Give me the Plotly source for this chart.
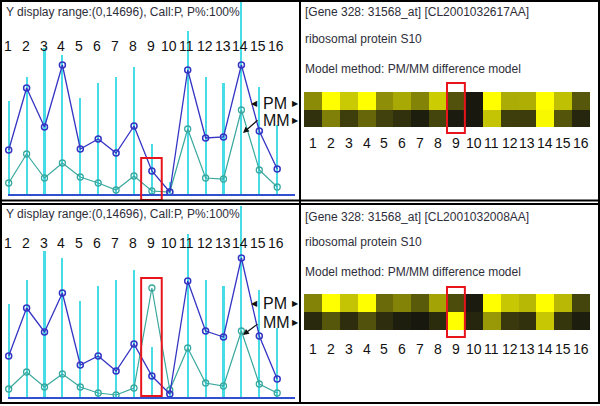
import plotly.graph_objects as go

# ---------------- data ----------------
cols = list(range(1, 17))
col_labels = [str(c) for c in cols]
highlight_col = 9

cyan_ref = [7520, 9440, 11760, 11200, 7760, 8960, 9440, 10240, 4080, 1040, 13120, 9440, 8960, 16000, 8640, 5600]

pm_top = [3600, 8560, 5440, 10400, 3680, 4480, 3360, 5520, 1920, 240, 10000, 4560, 4640, 10400, 5120, 2080]
mm_top = [960, 3280, 1360, 2560, 1440, 960, 400, 1520, 320, 240, 5280, 1360, 1280, 6800, 2000, 640]

pm_bot = [3360, 7200, 5280, 8400, 2640, 3360, 2160, 4320, 1760, 320, 9360, 5360, 4880, 11200, 4960, 1520]
mm_bot = [720, 2080, 880, 1920, 880, 400, 240, 800, 8800, 640, 4000, 1200, 960, 5360, 1120, 400]

range_title = "Y display range:(0,14696), Call:P, P%:100%"
gene_top = "[Gene 328: 31568_at] [CL2001032617AA]"
gene_bot = "[Gene 328: 31568_at] [CL2001032008AA]"
gene_name = "ribosomal protein S10"
model_text = "Model method: PM/MM difference model"

# ---------------- geometry helpers ----------------
W, H = 600, 406
def fx(p):
    return p / W
def fy(p):
    return 1 - p / H

COL1_PX, STEP_PX = 8.7, 17.9
VAL_PER_PX = 80.0
def xr(p):
    return 1 + (p - COL1_PX) / STEP_PX

FONT = "Liberation Sans, Arial, sans-serif"
TXT = "#2e2e3a"
PM_C = "#3434c4"
MM_C = "#38a89e"
CY_C = "#48dce6"

fig = go.Figure()

panels = [
    dict(xl="x", yl="y", xh="x3", yh="y3", pm=pm_top, mm=mm_top, base=195, d0=2, d1=199,
         title_y=12, nums_y=46, h0=92, h1=127, hl_y=143, gene=gene_top, gene_y=12, name_y=39, model_y=69,
         pm_y=103, mm_y=120, arrow=(243, 133, 259, 119), rl=(158, 200), rr=(83, 133)),
    dict(xl="x2", yl="y2", xh="x4", yh="y4", pm=pm_bot, mm=mm_bot, base=398, d0=206, d1=402,
         title_y=214, nums_y=243, h0=294, h1=330, hl_y=349, gene=gene_bot, gene_y=217, name_y=242, model_y=272,
         pm_y=303, mm_y=322, arrow=(243, 335, 259, 323), rl=(278, 396), rr=(287, 337)),
]

annotations = []
shapes = []

for i, P in enumerate(panels):
    fig.add_trace(go.Bar(x=cols, y=cyan_ref, width=0.12, marker_color=CY_C, marker_line_width=0,
                         xaxis=P["xl"], yaxis=P["yl"], showlegend=False))
    fig.add_trace(go.Scatter(x=cols, y=P["mm"], mode="lines+markers", line=dict(color=MM_C, width=1.2),
                             marker=dict(symbol="circle-open", size=6, color=MM_C, line=dict(width=1.3)),
                             xaxis=P["xl"], yaxis=P["yl"], showlegend=False))
    fig.add_trace(go.Scatter(x=cols, y=P["pm"], mode="lines+markers", line=dict(color=PM_C, width=1.3),
                             marker=dict(symbol="circle-open", size=6, color=PM_C, line=dict(width=1.5)),
                             xaxis=P["xl"], yaxis=P["yl"], showlegend=False))
    fig.add_trace(go.Heatmap(x=cols, y=[0, 1], z=[P["mm"], P["pm"]], zmin=0, zmax=7000,
                             colorscale=[[0, "#101010"], [1, "#ffff00"]], showscale=False,
                             xaxis=P["xh"], yaxis=P["yh"], xgap=0, ygap=0))

    base = P["base"]
    yrange = [(base - P["d1"]) * VAL_PER_PX, (base - P["d0"]) * VAL_PER_PX]
    axl = dict(visible=False, range=[xr(2), xr(298)], domain=[fx(2), fx(298)])
    ayl = dict(visible=False, range=yrange, domain=[fy(P["d1"]), fy(P["d0"])])
    axh = dict(visible=False, range=[0.5, 16.5], domain=[fx(304), fx(590)])
    ayh = dict(visible=False, range=[-0.5, 1.5], domain=[fy(P["h1"]), fy(P["h0"])])
    lx = "xaxis" if i == 0 else "xaxis2"
    ly = "yaxis" if i == 0 else "yaxis2"
    hx = "xaxis3" if i == 0 else "xaxis4"
    hy = "yaxis3" if i == 0 else "yaxis4"
    fig.layout[lx] = dict(axl, anchor=P["yl"])
    fig.layout[ly] = dict(ayl, anchor=P["xl"])
    fig.layout[hx] = dict(axh, anchor=P["yh"])
    fig.layout[hy] = dict(ayh, anchor=P["xh"])

    shapes.append(dict(type="line", xref="paper", yref=P["yl"], x0=fx(8), x1=fx(295), y0=0, y1=0,
                       line=dict(color="#3050d0", width=2)))
    annotations.append(dict(text=range_title, xref="paper", yref="paper", x=fx(4), y=fy(P["title_y"]),
                            xanchor="left", yanchor="middle", showarrow=False,
                            font=dict(family=FONT, size=12, color=TXT)))
    for c, lab in zip(cols, col_labels):
        annotations.append(dict(text=lab, xref=P["xl"], yref="paper", x=c, y=fy(P["nums_y"]),
                                xanchor="center", yanchor="middle", showarrow=False, xshift=-1,
                                font=dict(family=FONT, size=14, color="#111")))
        annotations.append(dict(text=lab, xref=P["xh"], yref="paper", x=c, y=fy(P["hl_y"]),
                                xanchor="center", yanchor="middle", showarrow=False,
                                font=dict(family=FONT, size=14, color="#111")))
    for t, yy in [(P["gene"], P["gene_y"]), (gene_name, P["name_y"]), (model_text, P["model_y"])]:
        annotations.append(dict(text=t, xref="paper", yref="paper", x=fx(303), y=fy(yy),
                                xanchor="left", yanchor="middle", showarrow=False,
                                font=dict(family=FONT, size=12, color=TXT)))
    annotations.append(dict(text="◀", xref="paper", yref="paper", x=fx(254), y=fy(P["pm_y"]),
                            xanchor="center", yanchor="middle", showarrow=False,
                            font=dict(family="DejaVu Sans", size=8, color="#111")))
    for lab, yy in [("PM", P["pm_y"]), ("MM", P["mm_y"])]:
        annotations.append(dict(text=lab, xref="paper", yref="paper", x=fx(261), y=fy(yy),
                                xanchor="left", yanchor="middle", showarrow=False,
                                font=dict(family=FONT, size=16, color="#111")))
        annotations.append(dict(text="▶", xref="paper", yref="paper", x=fx(295), y=fy(yy),
                                xanchor="center", yanchor="middle", showarrow=False,
                                font=dict(family="DejaVu Sans", size=8, color="#111")))
    ax0, ay0, ax1, ay1 = P["arrow"]
    annotations.append(dict(text="", xref="paper", yref="paper", x=fx(ax0), y=fy(ay0),
                            ax=ax1 - ax0, ay=ay1 - ay0, showarrow=True, arrowhead=2, arrowsize=1,
                            arrowwidth=1.2, arrowcolor="#111", standoff=0))
    shapes.append(dict(type="rect", xref=P["xl"], yref="paper", x0=highlight_col - 0.6, x1=highlight_col + 0.55,
                       y0=fy(P["rl"][1]), y1=fy(P["rl"][0]), line=dict(color="#e8141c", width=2), layer="above"))
    shapes.append(dict(type="rect", xref=P["xh"], yref="paper", x0=highlight_col - 0.5, x1=highlight_col + 0.5,
                       y0=fy(P["rr"][1]), y1=fy(P["rr"][0]), line=dict(color="#e8141c", width=2), layer="above"))

bk = dict(color="#000", width=2)
shapes += [
    dict(type="rect", xref="paper", yref="paper", x0=fx(1), x1=fx(599), y0=fy(403), y1=fy(1), line=bk),
    dict(type="line", xref="paper", yref="paper", x0=fx(300), x1=fx(300), y0=fy(403), y1=fy(1), line=bk),
    dict(type="line", xref="paper", yref="paper", x0=fx(0), x1=fx(600), y0=fy(200.5), y1=fy(200.5), line=bk),
    dict(type="line", xref="paper", yref="paper", x0=fx(0), x1=fx(600), y0=fy(204), y1=fy(204), line=bk),
]

fig.update_layout(width=W, height=H, margin=dict(l=0, r=0, t=0, b=0),
                  paper_bgcolor="white", plot_bgcolor="rgba(0,0,0,0)",
                  shapes=shapes, annotations=annotations, bargap=0, showlegend=False)

fig.write_html("out.html", config={"displayModeBar": False},
               post_script="document.body.style.margin='0';document.body.style.padding='0';"
                           "document.documentElement.style.overflow='hidden';")
